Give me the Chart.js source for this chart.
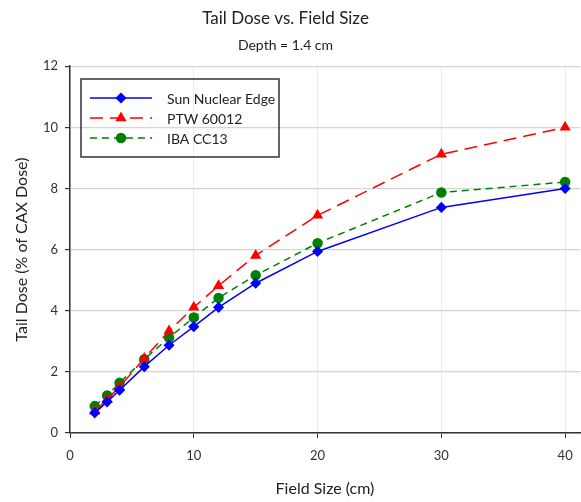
<!DOCTYPE html>
<html>
<head>
<meta charset="utf-8">
<script src="https://cdn.jsdelivr.net/npm/chart.js@4.4.1/dist/chart.umd.min.js"></script>
<style>
  html, body { margin: 0; padding: 0; background: #fff; }
  #wrap { width: 581px; height: 502px; }
</style>
</head>
<body>
<div id="wrap"><canvas id="chart-canvas" width="581" height="502"></canvas></div>
<script>
// field sizes (cm)
const fieldSizes = [2, 3, 4, 6, 8, 10, 12, 15, 20, 30, 40];
// tail dose, % of CAX dose
const sunNuclear = [0.66, 1.02, 1.40, 2.17, 2.87, 3.48, 4.11, 4.90, 5.94, 7.38, 8.00];
const ptw60012   = [0.71, 1.10, 1.51, 2.44, 3.34, 4.11, 4.82, 5.81, 7.12, 9.12, 10.00];
const ibaCC13    = [0.88, 1.23, 1.64, 2.41, 3.12, 3.78, 4.42, 5.16, 6.21, 7.87, 8.21];
const xTicks = [0, 10, 20, 30, 40];
const yTicks = [0, 2, 4, 6, 8, 10, 12];

const FONT = 'Lato, "Open Sans", sans-serif';
const pts = arr => arr.map((v, i) => ({ x: fieldSizes[i], y: v }));

// legend drawn as a boxed inset like the original
const boxLegend = {
    id: 'boxLegend',
    afterLayout(chart) {
        // original titles sit a few px left of canvas centre
        chart.boxes.forEach(b => { if (b.options && typeof b.options.text === 'string') b.right -= 9; });
    },
    afterDraw(chart) {
        const ctx = chart.ctx;
        ctx.save();
        ctx.strokeStyle = '#333'; ctx.lineWidth = 1.5;
        ctx.strokeRect(81, 79, 198, 78);
        chart.data.datasets.forEach((ds, i) => {
            const y = 98 + i * 20;
            ctx.strokeStyle = ds.borderColor; ctx.lineWidth = ds.borderWidth;
            ctx.setLineDash(ds.borderDash || []);
            ctx.beginPath(); ctx.moveTo(90, y); ctx.lineTo(152, y); ctx.stroke();
            ctx.setLineDash([]);
            ctx.fillStyle = ds.pointBackgroundColor;
            Chart.helpers.drawPoint(ctx, { pointStyle: ds.pointStyle, radius: ds.pointRadius, borderWidth: 1 }, 121, y);
            ctx.fillStyle = '#222'; ctx.font = '14px ' + FONT; ctx.textBaseline = 'middle';
            ctx.fillText(ds.label, 167, y + 1);
        });
        ctx.restore();
    }
};

const ctx = document.getElementById('chart-canvas').getContext('2d');
window.theChart = new Chart(ctx, {
    type: 'line',
    data: { datasets: [
        { label: 'Sun Nuclear Edge', data: pts(sunNuclear), borderColor: '#0000ff', backgroundColor: '#0000ff', pointBackgroundColor: '#0000ff', pointBorderColor: '#0000ff', borderWidth: 1.5, pointStyle: 'rectRot', pointRadius: 4.5, pointHoverRadius: 4.5 },
        { label: 'PTW 60012', data: pts(ptw60012), borderColor: '#ff0000', backgroundColor: '#ff0000', pointBackgroundColor: '#ff0000', pointBorderColor: '#ff0000', borderWidth: 1.5, borderDash: [13, 7], pointStyle: 'triangle', pointRadius: 5, pointHoverRadius: 5 },
        { label: 'IBA CC13', data: pts(ibaCC13), borderColor: '#008000', backgroundColor: '#008000', pointBackgroundColor: '#008000', pointBorderColor: '#008000', borderWidth: 1.5, borderDash: [7, 5], pointStyle: 'circle', pointRadius: 4.5, pointHoverRadius: 4.5 }
    ] },
    options: {
        responsive: false, animation: false,
        layout: { autoPadding: false, padding: { top: 0, right: 1, bottom: 0, left: 0 } },
        plugins: {
            legend: { display: false },
            tooltip: { enabled: false },
            title: { display: true, text: 'Tail Dose vs. Field Size', color: '#222', font: { family: FONT, size: 17, weight: 'normal' }, padding: { top: 8, bottom: 7 } },
            subtitle: { display: true, text: 'Depth = 1.4 cm', color: '#222', font: { family: FONT, size: 14, weight: 'normal' }, padding: { top: 2, bottom: 12 } }
        },
        scales: {
            x: {
                type: 'linear', min: 0, max: 41.2,
                afterBuildTicks: s => { s.ticks = xTicks.map(v => ({ value: v })); },
                afterFit: s => { s.height = 69; s.paddingLeft = 0; s.paddingRight = 0; },
                ticks: { color: '#333', font: { family: FONT, size: 13 }, padding: 10, maxRotation: 0 },
                grid: { color: '#ececec', lineWidth: 1, tickLength: 5, tickColor: '#333' },
                border: { color: '#333', width: 1.5 },
                title: { display: true, text: 'Field Size (cm)', color: '#222', font: { family: FONT, size: 16 }, padding: { top: 8 } }
            },
            y: {
                min: 0, max: 12,
                afterBuildTicks: s => { s.ticks = yTicks.map(v => ({ value: v })); },
                afterFit: s => { s.width = 70; },
                ticks: { color: '#333', font: { family: FONT, size: 13 }, padding: 7 },
                grid: { color: '#d4d4d4', lineWidth: 1.2, tickLength: 5, tickColor: '#333' },
                border: { color: '#333', width: 1.5 },
                title: { display: true, text: 'Tail Dose (% of CAX Dose)', color: '#222', font: { family: FONT, size: 16 }, padding: { top: 12, bottom: 0 } }
            }
        }
    },
    plugins: [boxLegend]
});
</script>
</body>
</html>
